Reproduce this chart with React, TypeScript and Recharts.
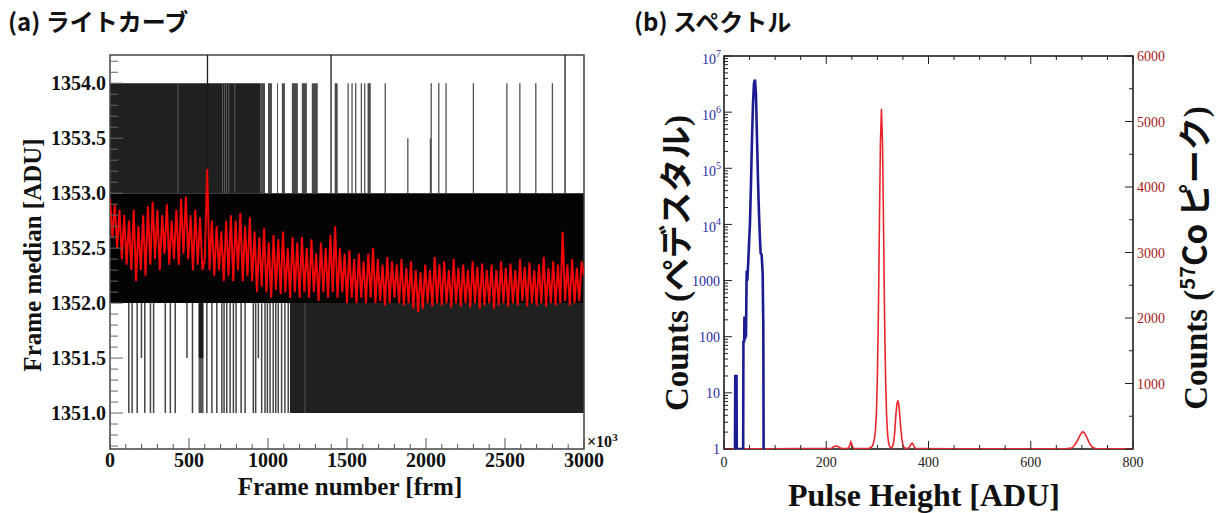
import React from 'react';
import { ComposedChart, Line, XAxis, YAxis, ReferenceArea, ReferenceLine } from 'recharts';

const SERIF = '"Liberation Serif", "Times New Roman", Times, serif';
const JP = '"Noto Sans CJK JP", "Noto Sans", sans-serif';

// ---------------- Panel (a): light curve ----------------
const frameStepK = 15; // frames (x10^3) between running-median samples
const medianAverage = [
  1352.95, 1352.6, 1352.9, 1352.5, 1352.85, 1352.4, 1352.8, 1352.35, 1352.75, 1352.3,
  1352.85, 1352.2, 1352.7, 1352.3, 1352.8, 1352.25, 1352.88, 1352.35, 1352.92, 1352.4,
  1352.85, 1352.3, 1352.8, 1352.45, 1352.9, 1352.35, 1352.75, 1352.4, 1352.85, 1352.35,
  1352.95, 1352.45, 1352.97, 1352.4, 1352.8, 1352.3, 1352.85, 1352.35, 1352.78, 1352.3,
  1352.4, 1353.22, 1352.3, 1352.75, 1352.25, 1352.7, 1352.3, 1352.65, 1352.2, 1352.75,
  1352.25, 1352.8, 1352.2, 1352.75, 1352.3, 1352.82, 1352.2, 1352.7, 1352.25, 1352.78,
  1352.2, 1352.65, 1352.1, 1352.6, 1352.15, 1352.68, 1352.1, 1352.55, 1352.05, 1352.62,
  1352.12, 1352.58, 1352.08, 1352.65, 1352.1, 1352.5, 1352.05, 1352.6, 1352.1, 1352.55,
  1352.05, 1352.6, 1352.1, 1352.5, 1352.05, 1352.58, 1352.1, 1352.45, 1352.02, 1352.55,
  1352.1, 1352.5, 1352.05, 1352.62, 1352.1, 1352.7, 1352.05, 1352.5, 1352.1, 1352.45,
  1352.0, 1352.48, 1352.05, 1352.4, 1352.0, 1352.45, 1352.05, 1352.38, 1352.0, 1352.45,
  1352.05, 1352.5, 1352.0, 1352.4, 1352.02, 1352.35, 1351.98, 1352.42, 1352.0, 1352.38,
  1352.05, 1352.35, 1352.0, 1352.4, 1351.98, 1352.32, 1352.0, 1352.38, 1351.95, 1352.3,
  1351.92, 1352.28, 1351.95, 1352.35, 1352.0, 1352.3, 1351.97, 1352.42, 1352.0, 1352.35,
  1351.98, 1352.38, 1352.0, 1352.3, 1351.96, 1352.4, 1352.0, 1352.32, 1351.97, 1352.35,
  1352.0, 1352.3, 1351.96, 1352.38, 1352.0, 1352.33, 1351.95, 1352.36, 1351.98, 1352.3,
  1352.0, 1352.35, 1351.95, 1352.3, 1351.98, 1352.38, 1352.0, 1352.32, 1351.97, 1352.36,
  1352.0, 1352.3, 1351.98, 1352.4, 1352.02, 1352.33, 1351.97, 1352.37, 1352.0, 1352.3,
  1351.98, 1352.35, 1352.0, 1352.42, 1351.97, 1352.32, 1352.0, 1352.38, 1351.98, 1352.35,
  1352.0, 1352.65, 1352.02, 1352.35, 1351.98, 1352.4, 1352.0, 1352.32, 1352.02, 1352.38,
  1352.25,
];

// raw frame medians (integer ADU levels) drawn as bands / spikes
const middleBandRange: [number, number] = [0, 3000];
const upperDenseRanges: [number, number][] = [[0, 950]];
const upperGrayRanges: [number, number][] = [
  [950, 981], [1000, 1025], [1057, 1063], [1088, 1107], [1151, 1189],
  [1214, 1246], [1277, 1315], [1422, 1441], [1630, 1650],
];
const upperSpikes = [1507, 1532, 1555, 1591, 1612, 1643, 1742, 2033, 2081, 2127, 2300, 2512, 2594, 2695, 2800];
const upperHalfSpikes = [1885, 2028];
const upperGaps = [430, 712, 725, 738, 752, 790];
const overflowSpikes = [617, 1399, 2880];
const lowerDenseRanges: [number, number][] = [[1139, 3000]];
const lowerGrayRanges: [number, number][] = [[560, 592]];
const lowerSpikes = [
  119, 140, 172, 220, 256, 276, 350, 382, 413, 522, 613, 645, 676, 708, 722, 739, 760,
  781, 798, 830, 855, 907, 922, 960, 981, 996, 1013, 1033, 1049, 1065, 1086, 1107, 1128,
];
const lowerHalfSpikes = [199, 487, 939];
const lowerGaps = [1234];

const lcXMajor = [0, 500, 1000, 1500, 2000, 2500, 3000];
const lcXLabels = ['0', '500', '1000', '1500', '2000', '2500', '3000'];
const lcYMajor = [1351, 1351.5, 1352, 1352.5, 1353, 1353.5, 1354];
const lcYLabels = ['1351.0', '1351.5', '1352.0', '1352.5', '1353.0', '1353.5', '1354.0'];
const lcYDomain: [number, number] = [1350.673, 1354.257];
const lcXTicks = Array.from({ length: 31 }, (_, i) => i * 100);
const lcYTicks = Array.from({ length: 36 }, (_, i) => +(1350.7 + i * 0.1).toFixed(1));

// ---------------- Panel (b): spectrum ----------------
const pedestalAdu = [21.5, 22, 24.5, 25, 37.5, 38, 39.5, 40, 41.5, 42.3, 43, 44.3, 45.6, 47.6, 50.8, 52.8, 54.7, 56.7, 58.6, 60.6, 62.5, 64.5, 66.5, 68.4, 70.4, 71.7, 73.6, 74.9, 75.6, 76.9, 77.5];
const pedestalCounts = [1, 20, 20, 1, 1, 85, 80, 230, 90, 230, 100, 1500, 1000, 2340, 10500, 54000, 316000, 1400000, 3200000, 3800000, 2100000, 360000, 62000, 16000, 5300, 3070, 2900, 1770, 1350, 150, 1];

const cobaltAdu = [0, 20, 90, 150, 200, 210, 214, 218, 222, 226, 230, 240, 244, 246, 248, 250, 252, 254, 270, 284, 288, 290, 292, 294, 296, 298, 300, 302, 304, 306, 308, 310, 312, 314, 316, 318, 320, 322, 324, 326, 328, 330, 332, 334, 336, 338, 340, 342, 344, 346, 348, 350, 352, 355, 360, 363, 366, 368, 370, 372, 375, 380, 450, 550, 650, 670, 680, 685, 690, 695, 700, 702, 705, 710, 715, 720, 725, 730, 760, 800];
const cobaltCounts = [3, 3, 3, 5, 6, 6, 30, 45, 40, 25, 8, 6, 15, 60, 110, 70, 20, 8, 8, 12, 25, 45, 80, 150, 260, 520, 1100, 2050, 3435, 4680, 5190, 4680, 3435, 2050, 1100, 520, 220, 90, 40, 20, 18, 40, 110, 260, 500, 670, 740, 670, 500, 300, 150, 65, 25, 10, 10, 30, 75, 90, 70, 30, 10, 5, 4, 3, 4, 6, 15, 50, 110, 190, 255, 265, 245, 170, 85, 30, 10, 4, 3, 3];

const spXMajor = [0, 200, 400, 600, 800];
const spXLabels = ['0', '200', '400', '600', '800'];
const spXTicks = Array.from({ length: 17 }, (_, i) => i * 50);
const logDecades = [1, 10, 100, 1000, 1e4, 1e5, 1e6, 1e7];
const logDecadeLabels = ['1', '10', '100', '1000', '10^4', '10^5', '10^6', '10^7'];
const logTicks: number[] = [];
logDecades.forEach((d, i) => {
  if (i === logDecades.length - 1) { logTicks.push(d); return; }
  for (let m = 1; m <= 9; m++) logTicks.push(d * m);
});
const linMajor = [1000, 2000, 3000, 4000, 5000, 6000];
const linLabels = ['1000', '2000', '3000', '4000', '5000', '6000'];
const linTicks = Array.from({ length: 13 }, (_, i) => i * 500);

const SP_PLOT_H = 393;

const near = (a: number, b: number) => Math.abs(a - b) < 1e-6 * Math.max(1, Math.abs(b));

// ---------------- tick renderers ----------------
function LcXTick(props: any) {
  const { x, y, payload } = props;
  const v = payload.value as number;
  const idx = lcXMajor.findIndex((m) => near(m, v));
  const major = idx >= 0;
  return (
    <g>
      <line x1={x} x2={x} y1={y} y2={y - (major ? 11 : 5)} stroke="#555" strokeWidth={1} />
      {major && (
        <text x={x} y={y + 18} textAnchor="middle" fontFamily={SERIF} fontWeight="bold" fontSize={20} fill="#111">
          {lcXLabels[idx]}
        </text>
      )}
    </g>
  );
}

function LcYTick(props: any) {
  const { x, y, payload } = props;
  const v = payload.value as number;
  const idx = lcYMajor.findIndex((m) => near(m, v));
  const major = idx >= 0;
  return (
    <g>
      <line x1={x} x2={x + (major ? 13 : 8)} y1={y} y2={y} stroke="#666" strokeWidth={1} />
      {major && (
        <text x={x - 4} y={y + 7} textAnchor="end" fontFamily={SERIF} fontWeight="bold" fontSize={20} fill="#111">
          {lcYLabels[idx]}
        </text>
      )}
    </g>
  );
}

function SpXTick(props: any) {
  const { x, y, payload } = props;
  const v = payload.value as number;
  const idx = spXMajor.findIndex((m) => near(m, v));
  const major = idx >= 0;
  const len = major ? 8 : 4;
  const top = y - SP_PLOT_H;
  return (
    <g>
      <line x1={x} x2={x} y1={y} y2={y - len} stroke="#222" strokeWidth={1} />
      <line x1={x} x2={x} y1={top} y2={top + len} stroke="#222" strokeWidth={1} />
      {major && (
        <text x={x} y={y + 18} textAnchor="middle" fontFamily={SERIF} fontSize={14} fill="#222">
          {spXLabels[idx]}
        </text>
      )}
    </g>
  );
}

function LogTick(props: any) {
  const { x, y, payload } = props;
  const v = payload.value as number;
  const idx = logDecades.findIndex((m) => near(m, v));
  const major = idx >= 0;
  const label = major ? logDecadeLabels[idx] : '';
  const isPow = label.indexOf('^') >= 0;
  return (
    <g>
      <line x1={x} x2={x + (major ? 8 : 4)} y1={y} y2={y} stroke="#222" strokeWidth={1} />
      {major && !isPow && (
        <text x={x - 4} y={y + 5} textAnchor="end" fontFamily={SERIF} fontSize={14} fill="#2a2aa0">
          {label}
        </text>
      )}
      {major && isPow && (
        <text x={x - 3} y={y + 8} textAnchor="end" fontFamily={SERIF} fontSize={14} fill="#2a2aa0">
          <tspan>{label.split('^')[0]}</tspan>
          <tspan fontSize={10} dy={-7}>{label.split('^')[1]}</tspan>
        </text>
      )}
    </g>
  );
}

function LinTick(props: any) {
  const { x, y, payload } = props;
  const v = payload.value as number;
  const idx = linMajor.findIndex((m) => near(m, v));
  const major = idx >= 0 || near(v, 0);
  return (
    <g>
      <line x1={x} x2={x - (major ? 8 : 4)} y1={y} y2={y} stroke="#222" strokeWidth={1} />
      {idx >= 0 && (
        <text x={x + 4} y={y + 5} textAnchor="start" fontFamily={SERIF} fontSize={14} fill="#a81a1a">
          {linLabels[idx]}
        </text>
      )}
    </g>
  );
}

function LightCurve() {
  const data = medianAverage.map((v, i) => ({ frame: i * frameStepK, median: v }));
  const seg = (x: number, y1: number, y2: number) => [{ x, y: y1 }, { x, y: y2 }];
  return (
    <ComposedChart width={620} height={513} data={data} margin={{ top: 55, right: 36, bottom: 34, left: 40 }}>
      <XAxis dataKey="frame" type="number" domain={[0, 3000]} ticks={lcXTicks} interval={0} allowDataOverflow
        tickLine={false} axisLine={false} tickSize={0} tickMargin={0} height={30} tick={(p: any) => <LcXTick {...p} />} />
      <YAxis type="number" domain={lcYDomain} ticks={lcYTicks} interval={0} allowDataOverflow
        tickLine={false} axisLine={false} tickSize={0} tickMargin={0} width={70} tick={(p: any) => <LcYTick {...p} />} />

      <ReferenceArea x1={middleBandRange[0]} x2={middleBandRange[1]} y1={1352} y2={1353} fill="#030303" fillOpacity={1} stroke="none" />
      {upperDenseRanges.map(([a, b], i) => (
        <ReferenceArea key={'ud' + i} x1={a} x2={b} y1={1353} y2={1354} fill="#202020" fillOpacity={1} stroke="none" />
      ))}
      {upperGrayRanges.map(([a, b], i) => (
        <ReferenceArea key={'ug' + i} x1={a} x2={b} y1={1353} y2={1354} fill="#4a4a4a" fillOpacity={1} stroke="none" />
      ))}
      {lowerDenseRanges.map(([a, b], i) => (
        <ReferenceArea key={'ld' + i} x1={a} x2={b} y1={1351} y2={1352} fill="#202020" fillOpacity={1} stroke="none" />
      ))}
      {lowerGrayRanges.map(([a, b], i) => (
        <ReferenceArea key={'lg' + i} x1={a} x2={b} y1={1351} y2={1352} fill="#555555" fillOpacity={1} stroke="none" />
      ))}
      {lowerGrayRanges.map(([a, b], i) => (
        <ReferenceArea key={'lgd' + i} x1={a + 2} x2={b - 2} y1={1351.5} y2={1352} fill="#1a1a1a" fillOpacity={1} stroke="none" />
      ))}
      {upperGaps.map((x, i) => (
        <ReferenceLine key={'ugap' + i} segment={seg(x, 1353, 1354)} stroke="#5c5c5c" strokeWidth={1} />
      ))}
      {lowerGaps.map((x, i) => (
        <ReferenceLine key={'lgap' + i} segment={seg(x, 1351, 1352)} stroke="#555" strokeWidth={1} />
      ))}
      {upperSpikes.map((x, i) => (
        <ReferenceLine key={'us' + i} segment={seg(x, 1353, 1354)} stroke="#505050" strokeWidth={1.3} />
      ))}
      {upperHalfSpikes.map((x, i) => (
        <ReferenceLine key={'uh' + i} segment={seg(x, 1353, 1353.5)} stroke="#505050" strokeWidth={1.3} />
      ))}
      {lowerSpikes.map((x, i) => (
        <ReferenceLine key={'ls' + i} segment={seg(x, 1351, 1352)} stroke="#444" strokeWidth={1.5} />
      ))}
      {lowerHalfSpikes.map((x, i) => (
        <ReferenceLine key={'lh' + i} segment={seg(x, 1351.5, 1352)} stroke="#444" strokeWidth={1.5} />
      ))}
      {overflowSpikes.map((x, i) => (
        <ReferenceLine key={'os' + i} segment={seg(x, 1353, lcYDomain[1])} stroke="#1a1a1a" strokeWidth={1.3} />
      ))}

      <Line dataKey="median" type="linear" stroke="#f00808" strokeWidth={2} dot={false} activeDot={false} isAnimationActive={false} />

      <ReferenceArea x1={0} x2={3000} y1={lcYDomain[0]} y2={lcYDomain[1]} fill="none" fillOpacity={0} stroke="#444" strokeWidth={1.5} ifOverflow="visible" />
    </ComposedChart>
  );
}

function Spectrum() {
  const rows: any[] = [
    ...pedestalAdu.map((a, i) => ({ adu: a, ped: pedestalCounts[i] })),
    ...cobaltAdu.map((a, i) => ({ adu: a, co: cobaltCounts[i] })),
  ].sort((p, q) => p.adu - q.adu);
  return (
    <ComposedChart width={596} height={513} data={rows} margin={{ top: 56, right: 23, bottom: 34, left: 40 }}>
      <XAxis dataKey="adu" type="number" domain={[0, 800]} ticks={spXTicks} interval={0} allowDataOverflow
        tickLine={false} axisLine={false} tickSize={0} tickMargin={0} height={30} tick={(p: any) => <SpXTick {...p} />} />
      <YAxis yAxisId="log" orientation="left" type="number" scale="log" domain={[1, 1e7]} ticks={logTicks} interval={0} allowDataOverflow
        tickLine={false} axisLine={false} tickSize={0} tickMargin={0} width={64} tick={(p: any) => <LogTick {...p} />} />
      <YAxis yAxisId="lin" orientation="right" type="number" domain={[0, 6000]} ticks={linTicks} interval={0} allowDataOverflow
        tickLine={false} axisLine={false} tickSize={0} tickMargin={0} width={60} tick={(p: any) => <LinTick {...p} />} />
      <Line yAxisId="lin" dataKey="co" type="linear" stroke="#e8262c" strokeWidth={1.6} dot={false} activeDot={false} connectNulls isAnimationActive={false} />
      <Line yAxisId="log" dataKey="ped" type="linear" stroke="#1c1c92" strokeWidth={2.6} dot={false} activeDot={false} connectNulls isAnimationActive={false} />
      <ReferenceArea yAxisId="lin" x1={0} x2={800} y1={0} y2={6000} fill="none" fillOpacity={0} stroke="#111" strokeWidth={1.5} ifOverflow="visible" />
    </ComposedChart>
  );
}

export default function App() {
  return (
    <div style={{ position: 'absolute', left: 0, top: 0, width: 1216, height: 513, background: '#fff', overflow: 'hidden' }}>
      <div style={{ position: 'absolute', left: 0, top: 0 }}>
        <LightCurve />
      </div>
      <div style={{ position: 'absolute', left: 620, top: 0 }}>
        <Spectrum />
      </div>
      <svg width={1216} height={513} style={{ position: 'absolute', left: 0, top: 0, pointerEvents: 'none' }}>
        <text x={8} y={31} fontFamily={JP} fontWeight="bold" fontSize={24} fill="#111">(a) ライトカーブ</text>
        <text x={634} y={31} fontFamily={JP} fontWeight="bold" fontSize={24} fill="#111">(b) スペクトル</text>

        <text x={41} y={255} transform="rotate(-90 41 255)" textAnchor="middle" fontFamily={SERIF} fontWeight="bold" fontSize={25} fill="#111">
          Frame median [ADU]
        </text>
        <text x={350} y={495} textAnchor="middle" fontFamily={SERIF} fontWeight="bold" fontSize={25} fill="#111">
          Frame number [frm]
        </text>
        <text x={587} y={447} fontFamily={SERIF} fontWeight="bold" fontSize={16} fill="#111">
          <tspan>×10</tspan>
          <tspan fontSize={11} dy={-6}>3</tspan>
        </text>

        <text x={688} y={263} transform="rotate(-90 688 263)" textAnchor="middle" fontWeight="bold" fontSize={33} fill="#111">
          <tspan fontFamily={SERIF}>Counts (</tspan>
          <tspan fontFamily={JP}>ペデスタル</tspan>
          <tspan fontFamily={SERIF}>)</tspan>
        </text>
        <text x={1207} y={258} transform="rotate(-90 1207 258)" textAnchor="middle" fontWeight="bold" fontSize={33} fill="#111">
          <tspan fontFamily={SERIF}>Counts (</tspan>
          <tspan fontFamily={JP} fontSize={20} dy={-12}>57</tspan>
          <tspan fontFamily={JP} dy={12}>Co ピーク</tspan>
          <tspan fontFamily={SERIF}>)</tspan>
        </text>
        <text x={924} y={506} textAnchor="middle" fontFamily={SERIF} fontWeight="bold" fontSize={32} fill="#111">
          Pulse Height [ADU]
        </text>
      </svg>
    </div>
  );
}
